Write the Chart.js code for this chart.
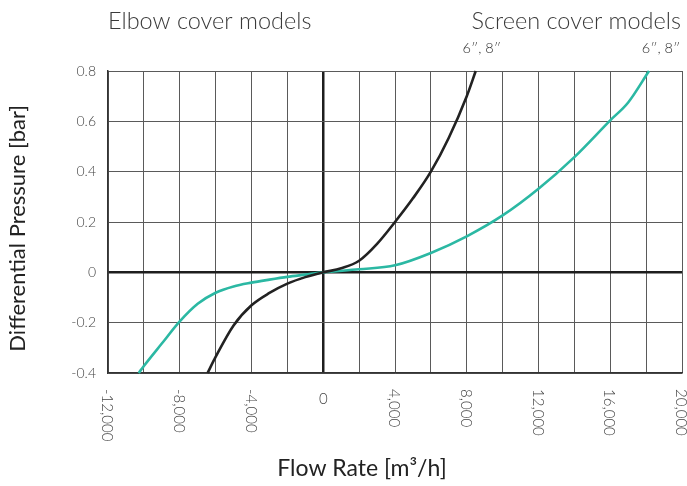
<!DOCTYPE html>
<html>
<head>
<meta charset="utf-8">
<script src="https://cdn.jsdelivr.net/npm/chart.js@4.4.1/dist/chart.umd.min.js"></script>
<style>
  html, body { margin: 0; padding: 0; background: #fff; }
  #wrap { width: 687px; height: 486px; position: relative; }
</style>
</head>
<body>
<div id="wrap"><canvas id="c" width="687" height="486"></canvas></div>
<script>
// Pressure drop curves: flow rate [m3/h] vs differential pressure [bar]
const elbowFlow     = [-6450, -6000, -5000, -4000, -3000, -2000, -1000, 0, 1000, 2000, 3000, 4000, 5000, 6000, 7000, 8000, 8500];
const elbowPressure = [-0.4, -0.336, -0.211, -0.131, -0.082, -0.045, -0.019, 0, 0.016, 0.046, 0.113, 0.2, 0.294, 0.4, 0.535, 0.7, 0.8];

const screenFlow     = [-10290, -10000, -9000, -8000, -7000, -6000, -5000, -4000, -3000, -2000, -1000, 0, 2000, 4000, 6000, 8000, 10000, 12000, 14000, 16000, 17000, 18160];
const screenPressure = [-0.4, -0.372, -0.283, -0.195, -0.125, -0.081, -0.056, -0.041, -0.029, -0.018, -0.009, 0, 0.012, 0.028, 0.077, 0.143, 0.226, 0.332, 0.458, 0.604, 0.675, 0.8];

const xTickLabels = [-12000, -8000, -4000, 0, 4000, 8000, 12000, 16000, 20000];

const headings = { left: 'Elbow cover models', right: 'Screen cover models' };
const sizeNote = '6\u2033, 8\u2033';
const xTitle = 'Flow Rate [m\u00b3/h]';
const yTitle = 'Differential Pressure [bar]';

const toPoints = (xs, ys) => xs.map((x, i) => ({ x, y: ys[i] }));
const FONT = 'Lato, "Open Sans", sans-serif';

// Draws headings, size notes, axis titles and the rotated flow-rate labels
const annotations = {
  id: 'annotations',
  afterDraw(chart) {
    const { ctx, chartArea, scales } = chart;
    const xs = scales.x;
    const ys = scales.y;
    ctx.save();
    ctx.fillStyle = '#3a3a3a';
    ctx.font = '300 23.5px ' + FONT;
    ctx.textBaseline = 'middle';
    ctx.textAlign = 'left';
    ctx.fillText(headings.left, chartArea.left, 21);
    ctx.textAlign = 'right';
    ctx.fillText(headings.right, chartArea.right - 1, 21);

    // size notes above the top end of each curve
    ctx.font = '300 14.5px ' + FONT;
    ctx.fillStyle = '#333';
    ctx.textAlign = 'center';
    ctx.fillText(sizeNote, xs.getPixelForValue(elbowFlow[elbowFlow.length - 1]) + 6, 48);
    ctx.fillText(sizeNote, xs.getPixelForValue(screenFlow[screenFlow.length - 1]) + 12, 48);

    // axis titles
    ctx.fillStyle = '#222';
    ctx.font = '400 23px ' + FONT;
    ctx.textAlign = 'center';
    ctx.fillText(xTitle, xs.getPixelForValue(2160), 469);

    ctx.save();
    ctx.translate(18, ys.getPixelForValue(0.175));
    ctx.rotate(-Math.PI / 2);
    ctx.font = '400 22px ' + FONT;
    ctx.fillText(yTitle, 0, 0);
    ctx.restore();

    // x tick labels, turned a quarter clockwise; zero stays upright
    ctx.font = '300 15px ' + FONT;
    ctx.fillStyle = '#444';
    xTickLabels.forEach(v => {
      const px = xs.getPixelForValue(v);
      const txt = v.toLocaleString('en-US');
      if (v === 0) {
        ctx.textAlign = 'center';
        ctx.textBaseline = 'middle';
        ctx.fillText(txt, px, chartArea.bottom + 26);
      } else {
        ctx.save();
        ctx.translate(px - 1, chartArea.bottom + 16);
        ctx.rotate(Math.PI / 2);
        ctx.textAlign = 'left';
        ctx.textBaseline = 'middle';
        ctx.fillText(txt, 0, 0);
        ctx.restore();
      }
    });
    ctx.restore();
  }
};

new Chart(document.getElementById('c'), {
  type: 'scatter',
  data: {
    datasets: [
      {
        label: 'Elbow cover',
        data: toPoints(elbowFlow, elbowPressure),
        showLine: true,
        borderColor: '#222222',
        borderWidth: 2.6,
        pointRadius: 0,
        cubicInterpolationMode: 'monotone',
        clip: 1
      },
      {
        label: 'Screen cover',
        data: toPoints(screenFlow, screenPressure),
        showLine: true,
        borderColor: '#2bb8a3',
        borderWidth: 2.6,
        pointRadius: 0,
        cubicInterpolationMode: 'monotone',
        clip: 1
      }
    ]
  },
  options: {
    responsive: false,
    animation: false,
    layout: { padding: { left: 0, top: 71, right: 5, bottom: 0 } },
    plugins: { legend: { display: false }, tooltip: { enabled: false } },
    scales: {
      x: {
        type: 'linear',
        min: -12000,
        max: 20000,
        afterFit(s) { s.height = 113; },
        ticks: { stepSize: 2000, display: false },
        grid: {
          drawTicks: false,
          color: c => c.tick && c.tick.value === 0 ? '#1e1e1e' : '#5a5a5a',
          lineWidth: c => c.tick && c.tick.value === 0 ? 2.5 : 1
        },
        border: { color: '#333', width: 1.5 },
        title: { display: false }
      },
      y: {
        min: -0.4,
        max: 0.8,
        afterFit(s) { s.width = 108; },
        ticks: {
          stepSize: 0.2,
          padding: 12,
          color: '#444',
          font: { family: FONT, size: 14, weight: '300' },
          callback: v => {
            const r = Math.round(v * 10) / 10;
            return r === 0 ? '0' : r.toFixed(1);
          }
        },
        grid: {
          drawTicks: false,
          color: c => c.tick && Math.abs(c.tick.value) < 1e-9 ? '#1e1e1e' : '#5a5a5a',
          lineWidth: c => c.tick && Math.abs(c.tick.value) < 1e-9 ? 2.5 : 1
        },
        border: { color: '#333', width: 1.5 },
        title: { display: false }
      }
    }
  },
  plugins: [annotations]
});
</script>
</body>
</html>
